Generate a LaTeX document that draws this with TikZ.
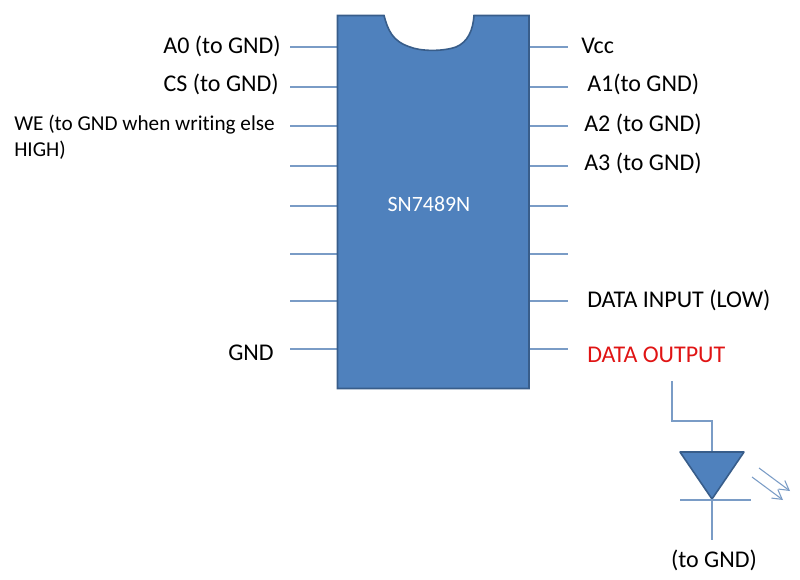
\documentclass[tikz,border=0pt]{standalone}
\usepackage{fontspec}
\setmainfont[RawFeature={-liga}]{Carlito}
\usetikzlibrary{arrows.meta}
\definecolor{chipfill}{HTML}{4F81BD}
\definecolor{chipedge}{HTML}{385D8A}
\definecolor{pinline}{HTML}{7A9CC6}
\tikzset{
  pinwire/.style={draw=pinline,line width=0.8pt},
  lbl/.style={font=\fontsize{18}{21}\selectfont,inner sep=0pt,text=black},
  lblr/.style={lbl,anchor=east},
  lbll/.style={lbl,anchor=west},
  lightray/.style={draw=pinline,line width=0.8pt,-{Straight Barb[length=7pt,width=8pt]}},
}
\begin{document}
\begin{tikzpicture}[x=0.75pt,y=-0.75pt]
\useasboundingbox (0,0) rectangle (800,579);
% pins
\foreach \n/\y in {1/47,2/87,3/126,4/166,5/206,6/254,7/301,8/349}{
  \coordinate (L\n) at (290,\y); \coordinate (LC\n) at (337,\y);
  \coordinate (RC\n) at (530,\y); \coordinate (R\n) at (568,\y);
  \draw[pinwire] (L\n) -- (LC\n);
  \draw[pinwire] (RC\n) -- (R\n);
}
% chip
\path[fill=chipfill,draw=chipedge,line width=1.2pt]
  (337.5,15.5) -- (384,15.5)
  .. controls (388,30) and (392,41) .. (410,47)
  .. controls (420,51) and (441,52) .. (456,47)
  .. controls (468,42) and (473,30) .. (474,15.5)
  -- (529,15.5) -- (529,388.5) -- (337.5,388.5) -- cycle;
\node[font=\fontsize{16.4}{20}\selectfont,text=white,inner sep=0pt] (chipname) at (429,204) {SN7489N};
% left labels
\node[lblr] (a0) at (281,46) {A0 (to GND)};
\node[lblr] (cs) at (279,84) {CS (to GND)};
\node[lbll,font=\fontsize{15.9}{19}\selectfont,align=left,anchor=north west] (we) at (14,115) {WE (to GND when writing else\\HIGH)};
\node[lblr] (gnd) at (274,353) {GND};
% right labels
\node[lbll] (vcc) at (581,46) {Vcc};
\node[lbll] (a1) at (587,84) {A1(to GND)};
\node[lbll] (a2) at (584,124) {A2 (to GND)};
\node[lbll] (a3) at (584,163) {A3 (to GND)};
\node[lbll] (din) at (587,300) {DATA INPUT (LOW)};
\node[lbll,text={rgb,255:red,224;green,20;blue,20}] (dout) at (587,355) {DATA OUTPUT};
% LED
\coordinate (w0) at (672,381);
\coordinate (w1) at (672,421);
\coordinate (w2) at (712,421);
\coordinate (tritop) at (712,452);
\coordinate (tl) at (680,452);
\coordinate (tr) at (744,452);
\coordinate (tip) at (712,499);
\coordinate (barl) at (680,500);
\coordinate (barr) at (751,500);
\coordinate (gndend) at (712,540);
\draw[pinwire] (w0) -- (w1) -- (w2) -- (tritop);
\path[fill=chipfill,draw=chipedge,line width=1.2pt,line join=round] (tl) -- (tr) -- (tip) -- cycle;
\draw[pinwire] (barl) -- (barr);
\draw[pinwire] (tip) -- (gndend);
\coordinate (r1a) at (759,468); \coordinate (r1b) at (790,491);
\coordinate (r2a) at (752,477); \coordinate (r2b) at (783,500);
\draw[lightray] (r1a) -- (r1b);
\draw[lightray] (r2a) -- (r2b);
\node[lbl] (toground) at (714,560) {(to GND)};
\end{tikzpicture}
\end{document}
